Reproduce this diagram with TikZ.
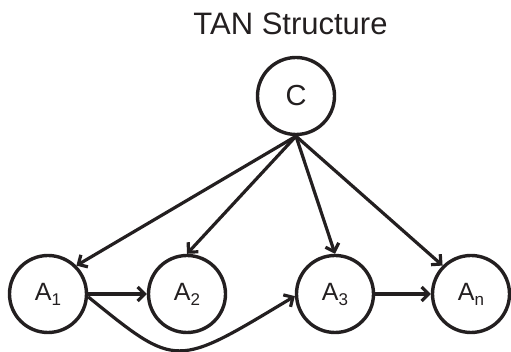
\documentclass[tikz,border=0pt]{standalone}
\usepackage{fontspec}
\setmainfont{Liberation Sans}
\usetikzlibrary{arrows.meta}
\definecolor{ink}{RGB}{35,31,32}
\tikzset{
  var/.style={circle, draw=ink, line width=3.4pt, minimum size=77pt, inner sep=0pt,
              text=ink, font=\fontsize{25}{29}\selectfont},
  edge/.style={draw=ink, line width=3.2pt,
               -{Straight Barb[length=7pt,width=14pt,line width=3.2pt]}},
}
\newcommand{\attr}[2]{A\raisebox{-5pt}{\fontsize{17}{20}\selectfont #2}}
\begin{document}
\begin{tikzpicture}[x=1pt,y=1pt]
  \useasboundingbox (0,0) rectangle (511,352);
  % title
  \node[anchor=base, text=ink, font=\fontsize{31}{36}\selectfont] (title) at (290.5,317) {TAN Structure};
  % class node and attribute nodes
  \node[var, font=\fontsize{29}{33}\selectfont] (C) at (296,256) {C};
  \node[var] (A1) at (48,58)  {\attr{A}{1}};
  \node[var] (A2) at (187,58) {\attr{A}{2}};
  \node[var] (A3) at (335,58) {\attr{A}{3}};
  \node[var] (An) at (471,58) {\attr{A}{n}};
  % class to attributes
  \draw[edge] (C.south) -- (A1.north east);
  \draw[edge] (C.south) -- (A2.north);
  \draw[edge] (C.south) -- (A3.north);
  \draw[edge] (C.south) -- (An.north west);
  % tree among attributes
  \draw[edge] (A1.east) -- (A2.west);
  \draw[edge] (A3.east) -- (An.west);
  \draw[edge] (A1.-4) .. controls +(-39:115) and +(211:140) .. (A3.183);
\end{tikzpicture}
\end{document}
